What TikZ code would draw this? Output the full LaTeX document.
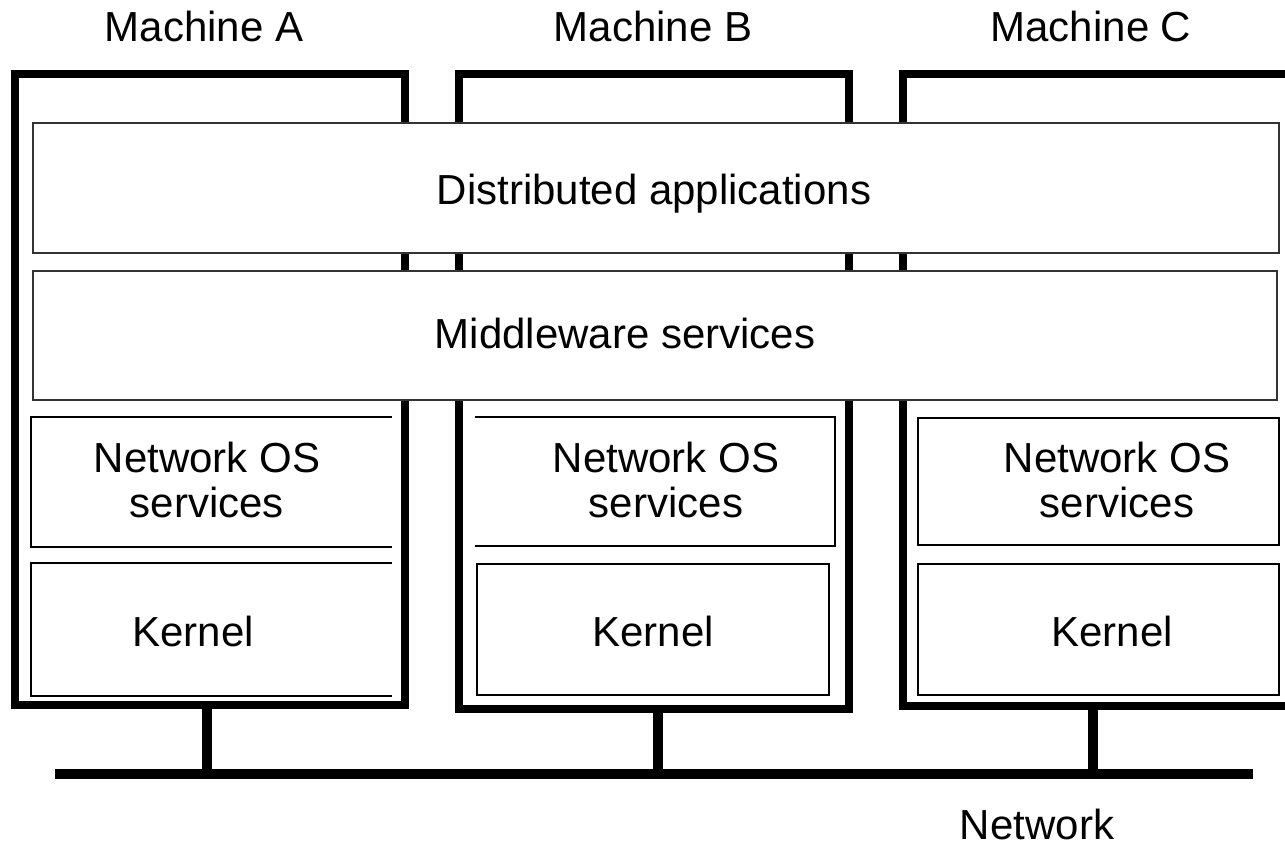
\documentclass[tikz,border=0pt]{standalone}
\usepackage{fontspec}
\setmainfont{Liberation Sans}
\usetikzlibrary{fit}
\begin{document}
\begin{tikzpicture}[x=0.5pt,y=-0.5pt]
\tikzstyle{machine}=[rectangle,draw,line width=4pt,inner sep=0pt]
\tikzstyle{layer}=[rectangle,draw=black!80,fill=white,line width=1.1pt,inner sep=0pt]
\tikzstyle{part}=[rectangle,line width=1.1pt,inner sep=0pt]
\tikzstyle{bus}=[line width=4.8pt]
\tikzstyle{txt}=[font=\fontsize{21}{22.5}\selectfont,inner sep=0pt,align=center]

\useasboundingbox (0,0) rectangle (1285,845);
\clip (0,0) rectangle (1285,845);

%machines and their labels.
\node[machine,fit={(15,74) (405,705)}] (mA) {};
\node[machine,fit={(459,74) (849,709)}] (mB) {};
\node[machine,fit={(903,74) (1340,706)}] (mC) {};
\node[txt,anchor=base] (labA) at (204,42) {Machine A};
\node[txt,anchor=base] (labB) at (653,42) {Machine B};
\node[txt,anchor=base] (labC) at (1091,42) {Machine C};

%shared layers.
\node[layer,fit={(33,123) (1279,253)}] (dist) {};
\node[txt,anchor=base] at (654,205) {Distributed applications};
\node[layer,fit={(33,271) (1277,400)}] (mid) {};
\node[txt,anchor=base] at (625,349) {Middleware services};

%machine A: boxes open on the right.
\node[part,fit={(32,418) (391,546)}] (nosA) {};
\node[part,fit={(32,564) (391,695)}] (kerA) {};
\draw[line width=1.1pt] (nosA.north east) -- (nosA.north west) -- (nosA.south west) -- (nosA.south east);
\draw[line width=1.1pt] (kerA.north east) -- (kerA.north west) -- (kerA.south west) -- (kerA.south east);
\node[txt] at (207,480) {Network OS\\services};
\node[txt,anchor=base] at (193,646) {Kernel};

%machine B: services box open on the left.
\node[part,fit={(476,418) (834,545)}] (nosB) {};
\node[part,draw,fit={(477,564) (829,695)}] (kerB) {};
\draw[line width=1.1pt] (nosB.north west) -- (nosB.north east) -- (nosB.south east) -- (nosB.south west);
\node[txt] at (666,480) {Network OS\\services};
\node[txt,anchor=base] at (653,646) {Kernel};

%machine C.
\node[part,draw,fit={(918,418) (1279,545)}] (nosC) {};
\node[part,draw,fit={(918,564) (1279,695)}] (kerC) {};
\node[txt] at (1117,480) {Network OS\\services};
\node[txt,anchor=base] at (1112,646) {Kernel};

%network.
\coordinate (netL) at (55,774);
\coordinate (netR) at (1253,774);
\draw[bus] (netL) -- (netR);
\draw[bus] ([xshift=98pt]mA.south west) -- ([xshift=98pt]mA.south west |- netL);
\draw[bus] ([xshift=101.5pt]mB.south west) -- ([xshift=101.5pt]mB.south west |- netL);
\draw[bus] ([xshift=97pt]mC.south west) -- ([xshift=97pt]mC.south west |- netL);
\node[txt,anchor=base] (net) at (1037,839) {Network};

\end{tikzpicture}
\end{document}
